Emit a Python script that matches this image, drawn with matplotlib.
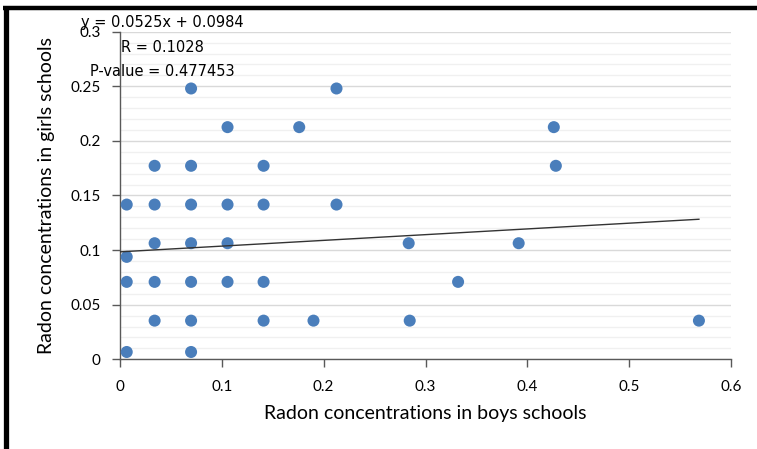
import matplotlib
matplotlib.use("Agg")
import matplotlib.pyplot as plt
from matplotlib.lines import Line2D
import numpy as np

# ---- data ----
boys = [0.0698, 0.2126,
        0.1056, 0.176, 0.426,
        0.034, 0.0698, 0.141, 0.428,
        0.0066, 0.034, 0.0698, 0.1056, 0.141, 0.2126,
        0.034, 0.0698, 0.1056, 0.2835, 0.3915,
        0.0066,
        0.0066, 0.034, 0.0698, 0.1056, 0.141, 0.332,
        0.034, 0.0698, 0.141, 0.19, 0.2845, 0.5685,
        0.0066, 0.0698]
girls = [0.248, 0.248,
         0.2126, 0.2126, 0.2126,
         0.1772, 0.1772, 0.1772, 0.1772,
         0.1417, 0.1417, 0.1417, 0.1417, 0.1417, 0.1417,
         0.1063, 0.1063, 0.1063, 0.1063, 0.1063,
         0.0938,
         0.0709, 0.0709, 0.0709, 0.0709, 0.0709, 0.0709,
         0.0354, 0.0354, 0.0354, 0.0354, 0.0354, 0.0354,
         0.0067, 0.0067]
slope = 0.0525
intercept = 0.0984
stats_text = ["y = 0.0525x + 0.0984", "R = 0.1028", "P-value = 0.477453"]
x_ticks = [0, 0.1, 0.2, 0.3, 0.4, 0.5, 0.6]
x_tick_labels = ["0", "0.1", "0.2", "0.3", "0.4", "0.5", "0.6"]
y_ticks = [0, 0.05, 0.1, 0.15, 0.2, 0.25, 0.3]
y_tick_labels = ["0", "0.05", "0.1", "0.15", "0.2", "0.25", "0.3"]
x_label = "Radon concentrations in boys schools"
y_label = "Radon concentrations in girls schools"

plt.rcParams['font.family'] = ['Lato', 'DejaVu Sans']

W, H = 757, 449
fig = plt.figure(figsize=(W / 100, H / 100), dpi=100)
ax = fig.add_axes([120 / W, 1 - 359.3 / H, (731 - 120) / W, (359.3 - 31.7) / H])

ax.set_xlim(0, 0.6)
ax.set_ylim(0, 0.3)

# gridlines
ax.set_yticks(y_ticks)
ax.set_yticks(np.arange(0, 0.3001, 0.01), minor=True)
ax.yaxis.grid(True, which='major', color='#d9d9d9', linewidth=1.0, zorder=0)
ax.yaxis.grid(True, which='minor', color='#f0f0f0', linewidth=1.0, zorder=0)
ax.xaxis.grid(False)
ax.set_axisbelow(True)
ax.tick_params(axis='y', which='minor', length=0)

ax.scatter(boys, girls, s=75, color='#4a7ebb', edgecolors='none', zorder=3)

xt = np.array([0, max(boys)])
ax.plot(xt, slope * xt + intercept, color='#333333', linewidth=1.0, zorder=4)

ax.set_xticks(x_ticks)
ax.set_xticklabels(x_tick_labels)
ax.set_yticklabels(y_tick_labels)
ax.tick_params(axis='both', which='major', direction='out', length=6,
               width=1, color='#595959', labelsize=11, labelcolor='#000000')
ax.tick_params(axis='x', pad=9)
ax.tick_params(axis='y', pad=8)

for s in ['top', 'right']:
    ax.spines[s].set_visible(False)
for s in ['left', 'bottom']:
    ax.spines[s].set_color('#595959')
    ax.spines[s].set_linewidth(1.0)

ax.set_xlabel(x_label, fontsize=14, labelpad=8)
ax.set_ylabel(y_label, fontsize=14, labelpad=11)

# stats annotations
ys = [22, 48, 71]
for t, yp in zip(stats_text, ys):
    fig.text(162 / W, 1 - yp / H, t, ha='center', va='center', fontsize=10.5,
             family='DejaVu Sans', color='#000000')

# figure border
fig.add_artist(Line2D([3 / W, 1.0], [1 - 8 / H, 1 - 8 / H], color='black',
                      linewidth=3.2, transform=fig.transFigure, solid_capstyle='butt'))
fig.add_artist(Line2D([5.8 / W, 5.8 / W], [1 - 6 / H, 0], color='black',
                      linewidth=3.8, transform=fig.transFigure, solid_capstyle='butt'))

fig.savefig("out.png", dpi=100)
